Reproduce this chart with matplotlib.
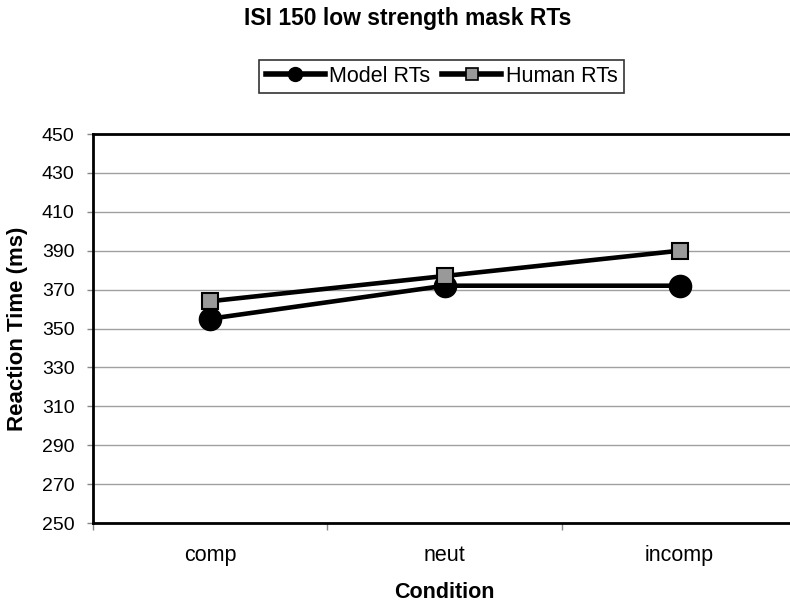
import matplotlib
matplotlib.use("Agg")
import matplotlib.pyplot as plt
from matplotlib.lines import Line2D

categories = ["comp", "neut", "incomp"]
model_rts = [355, 372, 372]
human_rts = [364, 377, 390]
yticks = list(range(250, 451, 20))

plt.rcParams['font.family'] = ['Liberation Sans', 'DejaVu Sans']

fig = plt.figure(figsize=(7.9, 6.03), dpi=100)
ax = fig.add_axes([92.5/790, 80/603, (797-92.5)/790, (523-134)/603])

x = [0.5 + i for i in range(len(categories))]
ax.plot(x, model_rts, color='black', lw=3.3, marker='o', ms=16,
        mfc='black', mec='black', zorder=3)
ax.plot(x, human_rts, color='black', lw=3.3, marker='s', ms=12,
        mfc='#999999', mec='black', mew=1.5, zorder=4)

ax.set_xlim(0, len(categories))
ax.set_ylim(250, 450)
ax.set_yticks(yticks)
ax.set_yticklabels([str(t) for t in yticks], fontsize=14)
ax.set_xticks(range(len(categories) + 1))
ax.set_xticklabels([])
ax.set_xticks(x, minor=True)
ax.set_xticklabels(categories, minor=True, fontsize=15.5)
ax.tick_params(axis='x', which='minor', length=0, pad=16)
ax.tick_params(axis='x', which='major', length=5, color='#888888', width=1)
ax.tick_params(axis='y', length=4, color='#888888', width=1, pad=9)
ax.yaxis.grid(True, color='#a0a0a0', lw=1)
ax.set_axisbelow(True)
for s in ax.spines.values():
    s.set_linewidth(2)
    s.set_color('black')

ax.set_ylabel('Reaction Time (ms)', fontsize=16, fontweight='bold')
ax.yaxis.set_label_coords((28 - 92.5) / 704.5, 0.5)
ax.set_xlabel('Condition', fontsize=15.5, fontweight='bold')
ax.xaxis.set_label_coords(0.5, -(582 - 523) / 389)

fig.text(408/790, 1 - 18.5/603, 'ISI 150 low strength mask RTs', ha='center', va='center',
         fontsize=16.5, fontweight='bold')

handles = [
    Line2D([], [], color='black', lw=4, marker='o', ms=10, mfc='black', mec='black'),
    Line2D([], [], color='black', lw=4, marker='s', ms=8, mfc='#999999', mec='black', mew=1.2),
]
leg = fig.legend(handles, ['Model RTs', 'Human RTs'], loc='center',
                 bbox_to_anchor=(441.5/790, 1 - 76.5/603), ncol=2,
                 fontsize=15.5, frameon=True, fancybox=False, edgecolor='black',
                 handlelength=2.75, handletextpad=0.2, columnspacing=0.55,
                 borderpad=0.3, borderaxespad=0)
leg.get_frame().set_linewidth(1.2)

fig.savefig('out.png', dpi=100)
